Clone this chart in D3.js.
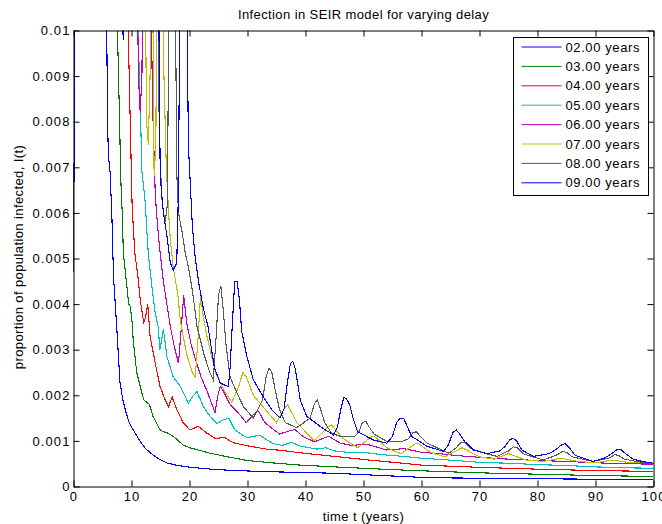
<!DOCTYPE html>
<html>
<head>
<meta charset="utf-8">
<script src="https://cdn.jsdelivr.net/npm/d3@7"></script>
<style>
  body { margin: 0; background: #fff; }
  svg text { font-family: "Liberation Sans", Arial, sans-serif; fill: #000; }
  .tick-label { font-size: 13px; letter-spacing: 1.1px; }
  .title, .axis-label { font-size: 13px; letter-spacing: 0.4px; }
  .legend-text { font-size: 13px; letter-spacing: 0.6px; }
  .series { fill: none; stroke-width: 1.1; shape-rendering: crispEdges; }
</style>
</head>
<body>
<svg id="chart" width="662" height="524"></svg>
<script>
// Values: [time t (years), I(t)]; 0.012 means "off the top"
const delay02 = [[0,0.0047],[0.3,0.012],[5.5,0.012],[5.75,0.0098],[5.85,0.0082],[6.0,0.0073],[6.3,0.0069],[6.6,0.006],[6.9,0.0046],[7.2,0.004],[7.5,0.0034],[8.0,0.0023],[8.5,0.0019],[9.0,0.00165],[9.6,0.0014],[10.3,0.00124],[11.5,0.00099],[12.3,0.00085],[13.2,0.00074],[14.5,0.00062],[16,0.00052],[18,0.00046],[19.6,0.00043],[22,0.0004],[24.7,0.00037],[30,0.00034],[35,0.00032],[39,0.00031],[45,0.00029],[50,0.00026],[55,0.00023],[60,0.0002],[63,0.00019],[80,0.00017],[100,0.00015]];
const delay03 = [[0,0.0047],[0.3,0.012],[7.3,0.012],[7.6,0.0099],[7.8,0.0088],[8.0,0.0077],[8.1,0.0069],[8.4,0.006],[8.6,0.0051],[8.9,0.00475],[9.2,0.0044],[9.5,0.004],[9.8,0.00395],[10.1,0.0036],[10.3,0.0032],[10.9,0.0025],[11.5,0.0022],[12.1,0.0019],[12.6,0.00185],[13.1,0.0018],[13.7,0.00154],[14.9,0.00125],[15.5,0.0012],[16.1,0.00118],[17.2,0.0011],[18.9,0.00091],[20,0.00085],[21.8,0.00079],[23.5,0.00073],[24.7,0.0007],[27,0.00064],[30,0.00057],[35,0.00051],[39,0.00047],[45,0.00043],[50,0.0004],[55,0.00037],[63,0.00033],[70,0.0003],[80,0.00027],[90,0.00024],[100,0.00022]];
const delay04 = [[0,0.0047],[0.3,0.012],[9.3,0.012],[9.5,0.0096],[9.8,0.0079],[10.1,0.0062],[10.3,0.0057],[10.6,0.0051],[11.2,0.0045],[11.5,0.0041],[12.1,0.0036],[12.4,0.0037],[12.8,0.004],[13.2,0.0033],[14.1,0.0027],[14.9,0.0022],[15.8,0.0019],[16.4,0.00175],[17.0,0.00197],[17.6,0.00175],[18.9,0.0014],[20.1,0.00124],[21.5,0.00132],[23.0,0.00117],[24.5,0.00105],[26,0.00108],[27.5,0.00096],[30.5,0.00088],[33.3,0.00082],[36,0.00079],[39,0.00074],[45,0.00066],[51,0.00058],[56,0.00052],[60,0.00047],[70,0.00042],[80,0.00038],[90,0.00035],[100,0.00033]];
const delay05 = [[0,0.0047],[0.3,0.012],[11.0,0.012],[11.2,0.0097],[11.5,0.0084],[11.8,0.0069],[12.4,0.0062],[12.6,0.0057],[12.9,0.0051],[13.5,0.0044],[14.1,0.0038],[14.6,0.0035],[14.9,0.003],[15.5,0.00345],[16.1,0.00285],[17.2,0.0024],[18.4,0.0022],[19.8,0.00183],[20.7,0.002],[21.3,0.00208],[22.4,0.00175],[23.5,0.00155],[24.7,0.00138],[25.8,0.00146],[26.8,0.0015],[27.8,0.00124],[29.9,0.00107],[31.2,0.0011],[32,0.00113],[34.4,0.00094],[36,0.0009],[37.6,0.00097],[39,0.00089],[42,0.00082],[43.5,0.00085],[45,0.00078],[48,0.00074],[50,0.00075],[53,0.0007],[56,0.00067],[60,0.00062],[66,0.00057],[70,0.00053],[75,0.00051],[80,0.00048],[85,0.00046],[90,0.00043],[95,0.00041],[100,0.0004]];
const delay06 = [[0,0.0047],[0.3,0.012],[10.9,0.012],[11.2,0.009],[11.5,0.0082],[11.8,0.009],[12.0,0.012],[13.3,0.012],[13.6,0.0085],[14.1,0.0064],[14.5,0.0057],[14.95,0.0051],[15.5,0.0045],[16.1,0.004],[16.7,0.0035],[17.5,0.003],[18.1,0.0027],[18.6,0.0035],[19.0,0.0042],[19.5,0.0036],[20.3,0.0031],[21,0.0028],[22,0.0024],[23,0.0021],[24.4,0.00162],[24.9,0.002],[25.3,0.0022],[25.8,0.0021],[27,0.0018],[28.5,0.0016],[29.8,0.0014],[31.2,0.0016],[31.9,0.00165],[33,0.0014],[35.5,0.00115],[37.5,0.00123],[38.2,0.00125],[39.5,0.0011],[41.5,0.00098],[44,0.0011],[46,0.00095],[48,0.0009],[50.5,0.00093],[54,0.0008],[57,0.00083],[60,0.00075],[63,0.00072],[66,0.00068],[70,0.00064],[75,0.0006],[80,0.00057],[85,0.00055],[90,0.00052],[95,0.0005],[100,0.00049]];
const delay07 = [[0,0.0047],[0.3,0.012],[12.3,0.012],[12.6,0.008],[12.9,0.0075],[13.2,0.009],[13.4,0.012],[13.6,0.012],[13.9,0.0068],[14.2,0.0075],[14.4,0.012],[15.2,0.012],[15.6,0.009],[16.0,0.007],[16.4,0.006],[16.7,0.0054],[17.2,0.0048],[17.6,0.0045],[18.0,0.0042],[18.4,0.00365],[19.5,0.0029],[20.5,0.0025],[21.0,0.0024],[21.5,0.0033],[21.9,0.0042],[22.4,0.0037],[23,0.0033],[24.5,0.0025],[26,0.0021],[27.3,0.00185],[28.5,0.0022],[29.2,0.0025],[29.8,0.0024],[31,0.002],[33,0.0017],[35,0.0014],[36.3,0.0017],[36.9,0.0018],[38.5,0.0014],[41.5,0.001],[43.8,0.0013],[44.5,0.00135],[46.5,0.00105],[49,0.00085],[51.2,0.00108],[51.9,0.0011],[54,0.00085],[56.5,0.00072],[58.8,0.00093],[59.4,0.00095],[61.5,0.00075],[64,0.00065],[67,0.00085],[70,0.00065],[72.5,0.0006],[75,0.00072],[78,0.00058],[81,0.00055],[84,0.00062],[87,0.00055],[90,0.00052],[93,0.00058],[96,0.00052],[100,0.00053]];
const delay08 = [[0,0.0047],[0.3,0.012],[14.5,0.012],[14.8,0.0075],[15.3,0.0062],[15.8,0.0058],[16.2,0.0062],[16.5,0.012],[17.5,0.012],[17.8,0.0069],[18.1,0.006],[18.7,0.0056],[19.3,0.0051],[19.9,0.00475],[20.5,0.0043],[21,0.0038],[21.3,0.0035],[22.5,0.0029],[23.5,0.0025],[24.1,0.00234],[24.6,0.0033],[25,0.0042],[25.4,0.0044],[25.8,0.0039],[26.3,0.0031],[27,0.0024],[28.2,0.00205],[29.3,0.00175],[31,0.0015],[32.6,0.0019],[33.2,0.0024],[33.7,0.0026],[34.2,0.0025],[34.8,0.0021],[35.5,0.0017],[36.5,0.0014],[38.5,0.00129],[40.8,0.0015],[41.5,0.0018],[42,0.0019],[42.6,0.0017],[43.3,0.0014],[44.5,0.00117],[46,0.0011],[48.5,0.0011],[49.2,0.0012],[49.8,0.0014],[50.4,0.00143],[51,0.0013],[51.8,0.00115],[54,0.00099],[56.5,0.00098],[57.8,0.00105],[58.5,0.00118],[59.1,0.0012],[59.8,0.0011],[61,0.00095],[64.7,0.00073],[66,0.00085],[66.8,0.00097],[67.4,0.00097],[68.3,0.00085],[70,0.00076],[73,0.00066],[75,0.00078],[75.8,0.00087],[76.5,0.00085],[77.5,0.00072],[81,0.00058],[83.5,0.0007],[84.3,0.00077],[85,0.00075],[86,0.00065],[89.6,0.00055],[92.5,0.00063],[93.3,0.0007],[94,0.00068],[95,0.0006],[97,0.00055],[100,0.0005]];
const delay09 = [[0,0.0047],[0.3,0.012],[7.5,0.012],[8.6,0.0098],[9.2,0.012],[14.6,0.012],[14.95,0.0068],[15.5,0.006],[16.1,0.0055],[16.7,0.0049],[17.2,0.00475],[17.8,0.0049],[18.1,0.0065],[18.4,0.012],[19.5,0.012],[19.8,0.0075],[20.5,0.0057],[21,0.005],[21.6,0.00446],[22.4,0.0039],[23.2,0.0035],[24.3,0.0026],[25.3,0.00227],[26.7,0.00219],[27.0,0.0026],[27.4,0.0036],[27.8,0.0045],[28.2,0.0045],[28.6,0.0041],[29,0.0034],[29.9,0.00285],[31,0.00234],[32.7,0.00197],[34.2,0.00168],[35.6,0.0015],[36.3,0.0017],[36.9,0.0023],[37.4,0.0027],[37.8,0.00275],[38.2,0.0026],[38.6,0.0023],[39.1,0.0019],[40.2,0.00154],[42.5,0.00132],[44.8,0.00113],[45.5,0.0013],[46.1,0.0017],[46.6,0.00195],[47.0,0.00193],[47.6,0.0018],[48.2,0.0015],[49,0.0012],[51.7,0.00102],[54,0.00095],[55,0.0011],[55.7,0.0014],[56.3,0.0015],[56.9,0.0015],[57.6,0.0013],[58.3,0.0011],[61,0.00088],[63.8,0.00077],[64.6,0.0009],[65.4,0.00118],[66,0.00124],[66.6,0.00115],[67.5,0.00098],[69,0.0008],[71.3,0.00072],[73.5,0.00078],[74.4,0.00088],[75.2,0.00102],[75.8,0.00106],[76.4,0.001],[77.3,0.0008],[79.3,0.00066],[82,0.00072],[83.3,0.00082],[84.2,0.00092],[84.8,0.00094],[85.5,0.00085],[86.5,0.00068],[89.6,0.00055],[91.5,0.00062],[92.8,0.00072],[93.6,0.0008],[94.4,0.00081],[95.2,0.00072],[96.5,0.0006],[98,0.00055],[100,0.00051]];

const seriesNames = ["02.00 years", "03.00 years", "04.00 years", "05.00 years",
                     "06.00 years", "07.00 years", "08.00 years", "09.00 years"];
const seriesData = [delay02, delay03, delay04, delay05, delay06, delay07, delay08, delay09];
// matlab's default line colour order, wraps round after 7 (dark one shows up greyish)
const lineColors = ["#0000ff", "#008000", "#ff0000", "#00bfbf", "#bf00bf", "#bfbf00", "#585858", "#0000ff"];

const xTicks = [0, 10, 20, 30, 40, 50, 60, 70, 80, 90, 100];
const yTicks = [0, 0.001, 0.002, 0.003, 0.004, 0.005, 0.006, 0.007, 0.008, 0.009, 0.01];
const yTickLabels = ["0", "0.001", "0.002", "0.003", "0.004", "0.005", "0.006", "0.007", "0.008", "0.009", "0.01"];

const plot = { left: 73.5, right: 653.5, top: 30.5, bottom: 486.5 };
const svg = d3.select("#chart");

const x = d3.scaleLinear().domain([0, 100]).range([plot.left, plot.right]);
const y = d3.scaleLinear().domain([0, 0.01]).range([plot.bottom, plot.top]);

svg.append("clipPath").attr("id", "plot-clip")
  .append("rect")
  .attr("x", plot.left).attr("y", plot.top)
  .attr("width", plot.right - plot.left).attr("height", plot.bottom - plot.top);

// curves, first delay drawn first so 09 ends on top
const line = d3.line().x(d => x(d[0])).y(d => y(d[1]));
svg.append("g").attr("clip-path", "url(#plot-clip)")
  .selectAll("path")
  .data(seriesData)
  .enter()
  .append("path")
  .attr("class", "series")
  .attr("stroke", (d, i) => lineColors[i])
  .attr("d", line);

// axes with inward ticks on all four sides (box on)
const tickLen = 6;
const bottomAxis = d3.axisBottom(x).tickValues(xTicks).tickSizeInner(-tickLen).tickSizeOuter(0).tickPadding(5);
const topAxis = d3.axisTop(x).tickValues(xTicks).tickSizeInner(-tickLen).tickSizeOuter(0).tickFormat("");
const leftAxis = d3.axisLeft(y).tickValues(yTicks).tickSizeInner(-tickLen).tickSizeOuter(0).tickPadding(3)
  .tickFormat((d, i) => yTickLabels[i]);
const rightAxis = d3.axisRight(y).tickValues(yTicks).tickSizeInner(-tickLen).tickSizeOuter(0).tickFormat("");

function drawAxis(axis, transform) {
  const g = svg.append("g").attr("transform", transform).call(axis);
  g.select(".domain").attr("stroke", "#000");
  g.selectAll(".tick line").attr("stroke", "#000");
  g.selectAll("text").attr("class", "tick-label").attr("fill", "#000");
  g.attr("font-family", null).attr("font-size", null);
  return g;
}
drawAxis(bottomAxis, `translate(0,${plot.bottom})`);
drawAxis(topAxis, `translate(0,${plot.top})`);
drawAxis(leftAxis, `translate(${plot.left},0)`);
drawAxis(rightAxis, `translate(${plot.right},0)`);

// titles
svg.append("text").attr("class", "title")
  .attr("x", (plot.left + plot.right) / 2).attr("y", 19)
  .attr("text-anchor", "middle")
  .text("Infection in SEIR model for varying delay");
svg.append("text").attr("class", "axis-label")
  .attr("x", (plot.left + plot.right) / 2).attr("y", 521)
  .attr("text-anchor", "middle")
  .text("time t (years)");
svg.append("text").attr("class", "axis-label")
  .attr("transform", "translate(23,257) rotate(-90)")
  .attr("text-anchor", "middle")
  .text("proportion of population infected, I(t)");

// legend
const legend = { x: 513.5, y: 37.5, w: 135, h: 158, rowH: 19.4, firstRow: 9.5 };
const lg = svg.append("g").attr("transform", `translate(${legend.x},${legend.y})`);
lg.append("rect")
  .attr("width", legend.w).attr("height", legend.h)
  .attr("fill", "#fff").attr("stroke", "#000");
const rows = lg.selectAll(".legend-row")
  .data(seriesNames)
  .enter()
  .append("g")
  .attr("class", "legend-row")
  .attr("transform", (d, i) => `translate(0,${legend.firstRow + i * legend.rowH})`);
rows.append("line")
  .attr("x1", 8).attr("x2", 48)
  .attr("y1", 0).attr("y2", 0)
  .attr("stroke", (d, i) => lineColors[i]);
rows.append("text")
  .attr("class", "legend-text")
  .attr("x", 52).attr("y", 4.5)
  .text(d => d);
</script>
</body>
</html>
